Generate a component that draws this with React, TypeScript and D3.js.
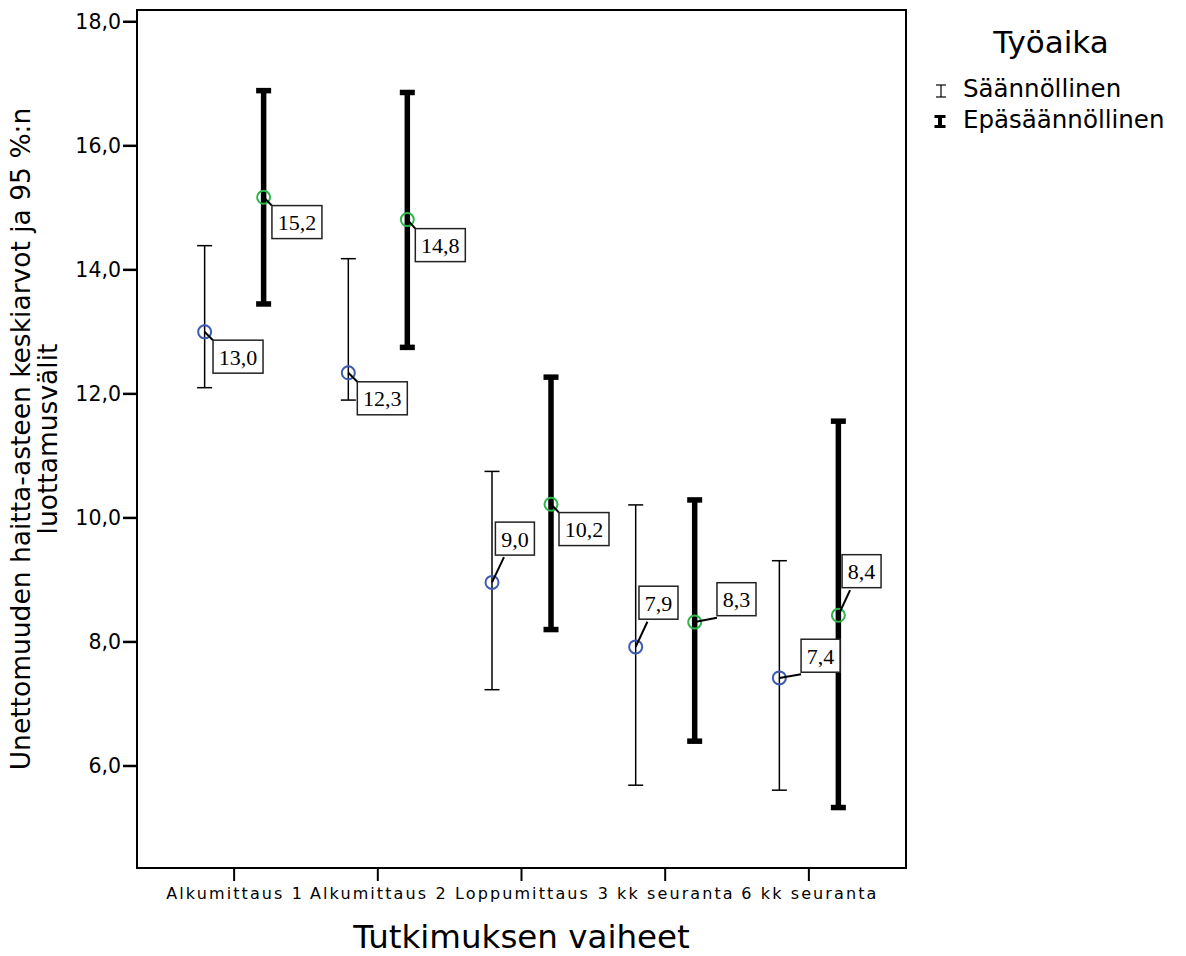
import React from "react";
import * as d3 from "d3";

const phases = ["Alkumittaus 1", "Alkumittaus 2", "Loppumittaus", "3 kk seuranta", "6 kk seuranta"];
const groups = ["Säännöllinen", "Epäsäännöllinen"];
const regMean = [13.0, 12.34, 8.96, 7.92, 7.42];
const regLow = [12.1, 11.9, 7.23, 5.69, 5.61];
const regHigh = [14.39, 14.18, 10.75, 10.21, 9.31];
const irrMean = [15.17, 14.81, 10.22, 8.32, 8.43];
const irrLow = [13.45, 12.75, 8.2, 6.4, 5.33];
const irrHigh = [16.89, 16.86, 12.27, 10.29, 11.56];
const yTicks = [6, 8, 10, 12, 14, 16, 18];

// label box placement relative to the point (layout only)
const regLabelLayout = [
  { dx: 8.4, dy: 8.3, ax: 0, ay: 0 },
  { dx: 9, dy: 9, ax: 0, ay: 0 },
  { dx: 3.4, dy: -60.3, ax: 8.6, ay: 35 },
  { dx: 3.3, dy: -60.7, ax: 8.4, ay: 35.5 },
  { dx: 21.7, dy: -38.7, ax: 0, ay: 35 },
];
const irrLabelLayout = [
  { dx: 8.3, dy: 8.3, ax: 0, ay: 0 },
  { dx: 8, dy: 9, ax: 0, ay: 0 },
  { dx: 8, dy: 8.3, ax: 0, ay: 0 },
  { dx: 22.3, dy: -39.4, ax: 0, ay: 35 },
  { dx: 3.7, dy: -60.6, ax: 8, ay: 35.5 },
];

const W = 1186;
const H = 956;
const left = 137, right = 906, top = 10, bottom = 868;
const sans = "'DejaVu Sans', Verdana, sans-serif";
const serif = "'Liberation Serif', 'Times New Roman', serif";

const fmt = (v: number) => v.toFixed(1).replace(".", ",");
const labelWidth = (s: string) => {
  let w = 0;
  for (const c of s) w += c === "," ? 5.5 : 11;
  return w + 11.5;
};

export default function App() {
  const x = d3.scalePoint<string>().domain(phases).range([left, right]).padding(0.676);
  const y = d3.scaleLinear().domain([4.355, 18.19]).range([bottom, top]);
  const off = 29.5;

  const series = [
    { name: groups[0], mean: regMean, low: regLow, high: regHigh, dx: -off, sw: 1.5, capH: 1.5, color: "#3d5bb0", lay: regLabelLayout },
    { name: groups[1], mean: irrMean, low: irrLow, high: irrHigh, dx: off, sw: 5.5, capH: 5.5, color: "#2db54a", lay: irrLabelLayout },
  ];

  const capW = 15;
  const boxH = 33;

  return (
    <svg width={W} height={H} style={{ position: "absolute", left: 0, top: 0, background: "#fff" }}>
      <rect x={0} y={0} width={W} height={H} fill="#fff" />
      {/* frame */}
      <rect x={left} y={top} width={right - left} height={bottom - top} fill="none" stroke="#000" strokeWidth={2} />
      {/* y ticks */}
      {yTicks.map((t) => (
        <g key={t}>
          <line x1={left - 14} x2={left} y1={y(t)} y2={y(t)} stroke="#000" strokeWidth={2.5} />
          <text x={left - 16} y={y(t)} dy="0.36em" textAnchor="end" fontFamily={sans} fontSize={20.5} fill="#000">
            {fmt(t)}
          </text>
        </g>
      ))}
      {/* x ticks */}
      {phases.map((p) => (
        <g key={p}>
          <line x1={x(p)!} x2={x(p)!} y1={bottom} y2={bottom + 13} stroke="#000" strokeWidth={2} />
          <text x={x(p)! + 1} y={899} textAnchor="middle" fontFamily={sans} fontSize={16} letterSpacing={2.1} fill="#000">
            {p}
          </text>
        </g>
      ))}
      {/* axis titles */}
      <text x={521.5} y={948} textAnchor="middle" fontFamily={sans} fontSize={32.5} fill="#000">
        Tutkimuksen vaiheet
      </text>
      <g transform={`translate(0, ${(top + bottom) / 2}) rotate(-90)`}>
        <text x={0} y={30} textAnchor="middle" fontFamily={sans} fontSize={26.5} fill="#000">
          Unettomuuden haitta-asteen keskiarvot ja 95 %:n
        </text>
        <text x={0} y={57} textAnchor="middle" fontFamily={sans} fontSize={26.5} fill="#000">
          luottamusvälit
        </text>
      </g>
      {/* error bars */}
      {series.map((s) =>
        phases.map((p, i) => {
          const cx = x(p)! + s.dx;
          return (
            <g key={s.name + p}>
              <line x1={cx} x2={cx} y1={y(s.low[i])} y2={y(s.high[i])} stroke="#000" strokeWidth={s.sw} />
              <line x1={cx - capW / 2} x2={cx + capW / 2} y1={y(s.high[i])} y2={y(s.high[i])} stroke="#000" strokeWidth={s.capH} />
              <line x1={cx - capW / 2} x2={cx + capW / 2} y1={y(s.low[i])} y2={y(s.low[i])} stroke="#000" strokeWidth={s.capH} />
            </g>
          );
        })
      )}
      {/* points */}
      {series.map((s) =>
        phases.map((p, i) => (
          <circle key={"c" + s.name + p} cx={x(p)! + s.dx} cy={y(s.mean[i])} r={6.5} fill="none" stroke={s.color} strokeWidth={2} />
        ))
      )}
      {/* labels */}
      {series.map((s) =>
        phases.map((p, i) => {
          const cx = x(p)! + s.dx;
          const cy = y(s.mean[i]);
          const L = s.lay[i];
          const txt = fmt(s.mean[i]);
          const bw = labelWidth(txt);
          const bx = cx + L.dx;
          const by = cy + L.dy;
          return (
            <g key={"l" + s.name + p}>
              <line x1={cx} y1={cy} x2={bx + L.ax} y2={by + L.ay} stroke="#000" strokeWidth={2} />
              <rect x={bx} y={by} width={bw} height={boxH} fill="#fff" stroke="#222" strokeWidth={1.5} />
              <text x={bx + bw / 2} y={by + 24.5} textAnchor="middle" fontFamily={serif} fontSize={22} fill="#000">
                {txt}
              </text>
            </g>
          );
        })
      )}
      {/* legend */}
      <text x={1051} y={53} textAnchor="middle" fontFamily={sans} fontSize={31} fill="#000">
        Työaika
      </text>
      <g>
        <line x1={941} x2={941} y1={85} y2={97} stroke="#000" strokeWidth={1.2} />
        <line x1={936} x2={946} y1={85} y2={85} stroke="#000" strokeWidth={1.2} />
        <line x1={936} x2={946} y1={97} y2={97} stroke="#000" strokeWidth={1.2} />
        <text x={963} y={97} fontFamily={sans} fontSize={24.5} fill="#000">
          {groups[0]}
        </text>
        <line x1={940} x2={940} y1={115} y2={128} stroke="#000" strokeWidth={4} />
        <line x1={934.5} x2={945.5} y1={116.5} y2={116.5} stroke="#000" strokeWidth={3} />
        <line x1={934.5} x2={945.5} y1={126.5} y2={126.5} stroke="#000" strokeWidth={3} />
        <text x={963} y={128} fontFamily={sans} fontSize={24.5} fill="#000">
          {groups[1]}
        </text>
      </g>
    </svg>
  );
}
